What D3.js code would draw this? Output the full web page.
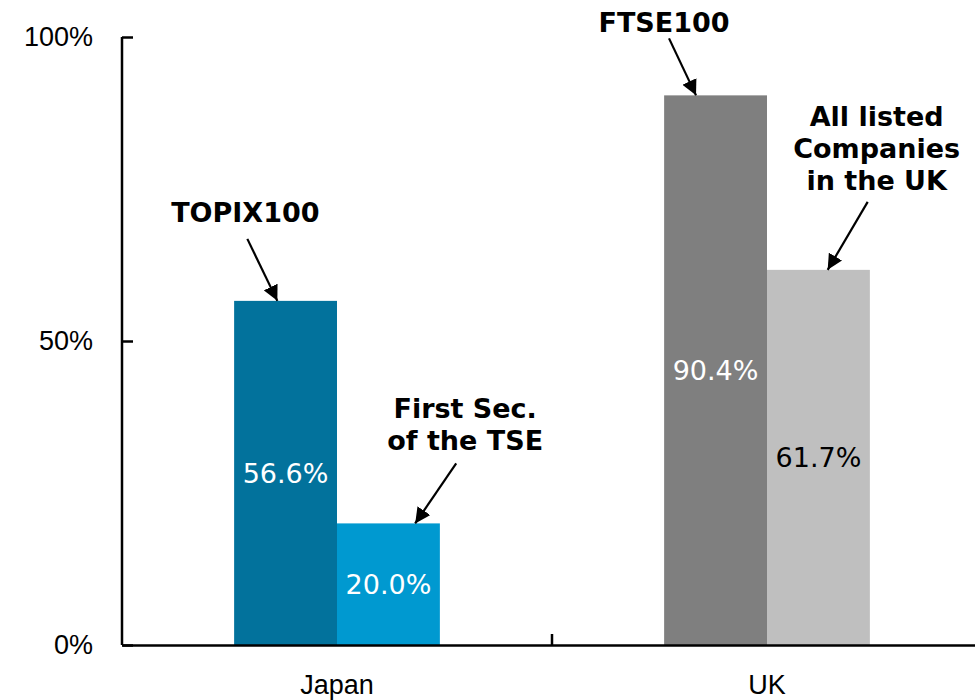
<!DOCTYPE html>
<html>
<head>
<meta charset="utf-8">
<script src="https://cdn.jsdelivr.net/npm/d3@7"></script>
<style>
  html, body { margin: 0; padding: 0; background: #fff; }
  svg { display: block; font-family: "DejaVu Sans", Verdana, sans-serif; }
  .axis path, .axis line { stroke: #000; stroke-width: 2.5; }
  .axis text { fill: #000; font-size: 27px; }
  .note { font-weight: bold; font-size: 27px; fill: #000; }
</style>
</head>
<body>
<div id="chart"></div>
<script>
// data
const categories = ['Japan', 'UK'];
const indexNames = [['TOPIX100', 'First Sec.\nof the TSE'], ['FTSE100', 'All listed\nCompanies\nin the UK']];
const shareValues = [[56.6, 20.0], [90.4, 61.7]];
const yTicks = [0, 50, 100];
const barColors = [['#02729c', '#0099d0'], ['#7f7f7f', '#bfbfbf']];
const valueColors = [['#fff', '#fff'], ['#fff', '#000']];

const width = 975, height = 700;
const margin = { top: 37, right: -7, bottom: 55, left: 122 };

const svg = d3.select('#chart').append('svg')
    .attr('width', width)
    .attr('height', height);

const x = d3.scaleBand()
    .domain(categories)
    .range([margin.left, width - margin.right])
    .padding(0);

const xSub = d3.scaleBand()
    .domain([0, 1])
    .range([0, x.bandwidth()])
    .paddingInner(0)
    .paddingOuter(1.09);

const y = d3.scaleLinear()
    .domain([0, 100])
    .range([height - margin.bottom, margin.top]);

const rows = [];
categories.forEach((c, i) => {
    shareValues[i].forEach((v, j) => {
        rows.push({ cat: c, i: i, j: j, value: v, name: indexNames[i][j] });
    });
});

// bars
svg.append('g').selectAll('rect')
    .data(rows)
    .enter().append('rect')
    .attr('x', d => x(d.cat) + xSub(d.j))
    .attr('y', d => y(d.value))
    .attr('width', xSub.bandwidth())
    .attr('height', d => y(0) - y(d.value))
    .attr('fill', d => barColors[d.i][d.j]);

// value labels in the middle of the bars
svg.append('g').selectAll('text')
    .data(rows)
    .enter().append('text')
    .attr('x', d => x(d.cat) + xSub(d.j) + xSub.bandwidth() / 2)
    .attr('y', d => (y(d.value) + y(0)) / 2)
    .attr('dy', '0.36em')
    .attr('text-anchor', 'middle')
    .attr('font-size', 27)
    .attr('fill', d => valueColors[d.i][d.j])
    .text(d => d.value.toFixed(1) + '%');

// y axis
const yAxis = svg.append('g')
    .attr('class', 'axis')
    .attr('transform', `translate(${margin.left},0)`)
    .call(d3.axisLeft(y).tickValues(yTicks).tickSize(-11).tickSizeOuter(0).tickPadding(29)
        .tickFormat(d => d + '%'));
yAxis.select('.domain').attr('d', `M0,${y(0)}V${y(100)}`);
yAxis.selectAll('text').attr('font-family', null);

// x axis
const xAxis = svg.append('g')
    .attr('class', 'axis')
    .attr('transform', `translate(0,${y(0)})`)
    .call(d3.axisBottom(x).tickSize(0).tickPadding(30));
xAxis.selectAll('text').attr('font-family', null);
xAxis.append('g').selectAll('line')
    .data(categories.slice(1))
    .enter().append('line')
    .attr('x1', d => x(d)).attr('x2', d => x(d))
    .attr('y1', 0).attr('y2', -11);

// arrow callouts: [tip fraction across bar, tail dx, tail dy, label dx, first baseline dy]
const callouts = [
    [[0.42, -30, -62, -32, -79], [0.76, 41, -60, 50, -105]],
    [[0.31, -27, -57, -32, -63], [0.59, 40, -68, 49, -144]]
];
const lineGap = 32;

svg.append('defs').append('marker')
    .attr('id', 'head')
    .attr('viewBox', '0 0 10 10')
    .attr('refX', 10).attr('refY', 5)
    .attr('markerWidth', 7).attr('markerHeight', 7)
    .attr('markerUnits', 'strokeWidth')
    .attr('orient', 'auto')
    .append('path')
    .attr('d', 'M0,0L10,5L0,10z')
    .attr('fill', '#000');

const notes = svg.append('g');
rows.forEach(d => {
    const c = callouts[d.i][d.j];
    const tx = x(d.cat) + xSub(d.j) + xSub.bandwidth() * c[0];
    const ty = y(d.value);
    notes.append('line')
        .attr('x1', tx + c[1]).attr('y1', ty + c[2])
        .attr('x2', tx).attr('y2', ty)
        .attr('stroke', '#000')
        .attr('stroke-width', 2.2)
        .attr('marker-end', 'url(#head)');
    const lines = d.name.split('\n');
    const t = notes.append('text')
        .attr('class', 'note')
        .attr('text-anchor', 'middle')
        .attr('x', tx + c[3])
        .attr('y', ty + c[4]);
    lines.forEach((l, k) => {
        t.append('tspan')
            .attr('x', tx + c[3])
            .attr('dy', k === 0 ? 0 : lineGap)
            .text(l);
    });
});
</script>
</body>
</html>
